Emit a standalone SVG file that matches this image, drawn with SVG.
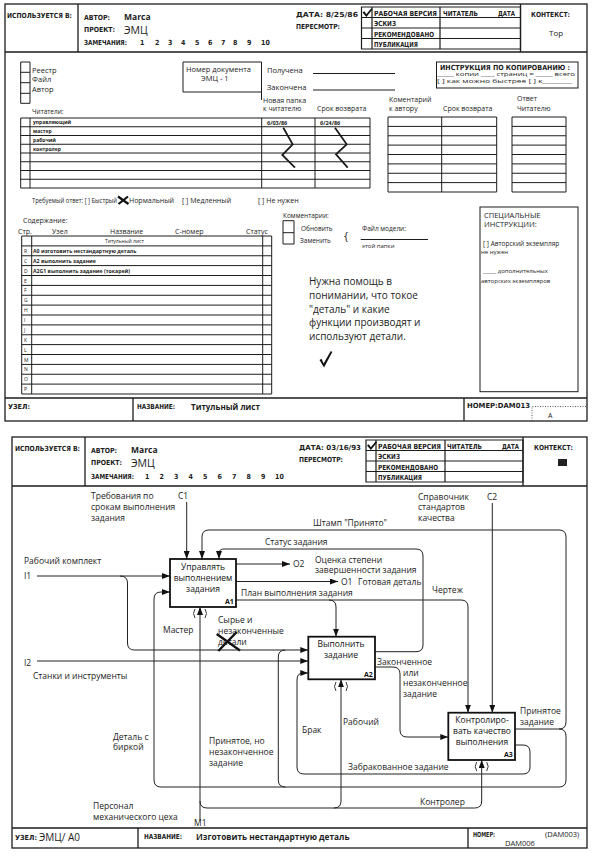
<svg xmlns="http://www.w3.org/2000/svg" width="598" height="856" viewBox="0 0 598 856">
<style>
.h{font-family:"DejaVu Sans Condensed","DejaVu Sans",sans-serif;font-weight:bold;font-size:7px;fill:#1c1c1c}
.r{font-family:"Open Sans","Noto Sans",sans-serif;fill:#1c1c1c}
.b{font-family:"Open Sans","Noto Sans",sans-serif;font-weight:bold;fill:#1c1c1c}
.ln{fill:none;stroke:#1c1c1c;stroke-width:1}
.fr{fill:none;stroke:#1c1c1c;stroke-width:1.3}
.bx{fill:#fff;stroke:#111;stroke-width:1.8}
.cn{fill:none;stroke:#222;stroke-width:1}
.ar{marker-end:url(#arr)}
.d{font-family:"Open Sans","Noto Sans",sans-serif;font-size:8.5px;fill:#1c1c1c}
.n{font-family:"Open Sans","Noto Sans",sans-serif;font-size:8.5px;fill:#111;text-anchor:middle}
.id{font-family:"Open Sans","Noto Sans",sans-serif;font-size:7px;font-weight:bold;fill:#111}
</style>
<defs>
<marker id="arr" viewBox="0 0 8 6" refX="8" refY="3" markerWidth="8" markerHeight="6" markerUnits="userSpaceOnUse" orient="auto"><path d="M0,0L8,3L0,6Z" fill="#111"/></marker>
</defs>

<!-- ================= PAGE 1 ================= -->
<g id="page1">
<g id="p1-header">
<rect class="fr" x="5" y="4" width="582" height="417"/>
<path class="fr" d="M5,52H587M78,4V52M520.5,4V52"/>
<path class="ln" style="stroke-width:1.2" d="M361.5,7H520.5V49H361.5ZM372,7V49M440,7V49M361.5,17.5H520.5M361.5,28H520.5M361.5,38.5H520.5"/>
<path d="M362.5,12.5L364.3,11.3L366.3,14.2L371.3,8.2L372.6,9.2L366.4,17Z" fill="#111"/>
<text class="h" x="7" y="18" textLength="65" lengthAdjust="spacingAndGlyphs">ИСПОЛЬЗУЕТСЯ В:</text>
<text class="h" x="84" y="20" textLength="26" lengthAdjust="spacingAndGlyphs">АВТОР:</text>
<text class="b" x="124" y="20" font-size="8.5">Marca</text>
<text class="h" x="84" y="32" textLength="31" lengthAdjust="spacingAndGlyphs">ПРОЕКТ:</text>
<text class="r" x="124" y="33.5" font-size="10.5">ЭМЦ</text>
<text class="h" x="84" y="45" textLength="43" lengthAdjust="spacingAndGlyphs">ЗАМЕЧАНИЯ:</text>
<text class="h" y="45"><tspan x="140">1</tspan><tspan x="155">2</tspan><tspan x="168">3</tspan><tspan x="181">4</tspan><tspan x="195">5</tspan><tspan x="208">6</tspan><tspan x="221">7</tspan><tspan x="233">8</tspan><tspan x="247">9</tspan><tspan x="261">10</tspan></text>
<text class="h" x="296" y="17" textLength="62" lengthAdjust="spacingAndGlyphs">ДАТА: 8/25/86</text>
<text class="h" x="296" y="29" textLength="44" lengthAdjust="spacingAndGlyphs">ПЕРЕСМОТР:</text>
<text class="h" x="374" y="15.5" textLength="63" lengthAdjust="spacingAndGlyphs">РАБОЧАЯ ВЕРСИЯ</text>
<text class="h" x="374" y="26" textLength="22" lengthAdjust="spacingAndGlyphs">ЭСКИЗ</text>
<text class="h" x="374" y="36.5" textLength="60" lengthAdjust="spacingAndGlyphs">РЕКОМЕНДОВАНО</text>
<text class="h" x="374" y="47" textLength="44" lengthAdjust="spacingAndGlyphs">ПУБЛИКАЦИЯ</text>
<text class="h" x="443" y="15.5" textLength="35" lengthAdjust="spacingAndGlyphs">ЧИТАТЕЛЬ</text>
<text class="h" x="498" y="15.5" textLength="17" lengthAdjust="spacingAndGlyphs">ДАТА</text>
<text class="h" x="531" y="17" textLength="39" lengthAdjust="spacingAndGlyphs">КОНТЕКСТ:</text>
<text class="r" x="549" y="36" font-size="8">Top</text>
</g>

<g id="p1-routing">
<path class="ln" d="M20.7,62H30M20.7,72.3H30M20.7,82.7H30M20.7,93.3H30M20.7,103.3H30M20.7,62V103.3M30,62V103.3"/>
<text class="r" x="32" y="72.5" font-size="7.5">Реестр</text>
<text class="r" x="32" y="81.5" font-size="7.5">Файл</text>
<text class="r" x="32" y="91.5" font-size="7.5">Автор</text>
<path class="ln" d="M183,62H261.5V92H183ZM261.5,92V100"/>
<text class="r" x="186" y="71.5" font-size="7.5">Номер документа</text>
<text class="r" x="201" y="80.5" font-size="7.5">ЭМЦ - 1</text>
<text class="r" x="267" y="72.5" font-size="7.5">Получена</text>
<text class="r" x="267" y="89.5" font-size="7.5">Закончена</text>
<path class="ln" d="M313,73.5H395M313,90H395"/>
<rect class="ln" x="436.5" y="62" width="141.5" height="26"/>
<text class="h" x="440" y="69.5" textLength="130" lengthAdjust="spacingAndGlyphs">ИНСТРУКЦИЯ ПО КОПИРОВАНИЮ :</text>
<text class="r" x="437" y="76" font-size="5.5" textLength="138" lengthAdjust="spacingAndGlyphs">_____ копии ____ страниц = _____ всего</text>
<text class="r" x="437" y="82.5" font-size="5.5" textLength="135" lengthAdjust="spacingAndGlyphs">[ ] как можно быстрее [ ] к________</text>
</g>

<g id="p1-readers">
<text class="r" x="263" y="102.5" font-size="7">Новая папка</text>
<text class="r" x="263" y="111" font-size="7">к читателю</text>
<text class="r" x="317" y="111" font-size="7">Срок возврата</text>
<text class="r" x="389" y="102" font-size="7">Коментарий</text>
<text class="r" x="389" y="110.5" font-size="7">к автору</text>
<text class="r" x="443" y="110.5" font-size="7">Срок возврата</text>
<text class="r" x="517" y="100.5" font-size="7">Ответ</text>
<text class="r" x="517" y="110.5" font-size="7">Читателю</text>
<text class="r" x="32" y="114" font-size="6.5">Читатели:</text>
<path class="ln" d="M20.7,118H370V188H20.7ZM30,118V188M261.7,118V188M315,118V188M20.7,126.75H370M20.7,135.5H370M20.7,144.25H370M20.7,153H370M20.7,161.75H370M20.7,170.5H370M20.7,179.25H370"/>
<text class="b" x="33" y="124.3" font-size="5">управляющий</text>
<text class="b" x="33" y="133" font-size="5">мастер</text>
<text class="b" x="33" y="141.8" font-size="5">рабочий</text>
<text class="b" x="33" y="150.5" font-size="5">контролер</text>
<text class="b" x="267" y="124.5" font-size="5.5">6/03/86</text>
<text class="b" x="320" y="124.5" font-size="5.5">6/24/86</text>
<path fill="none" stroke="#1c1c1c" stroke-width="1.8" d="M283.3,127.7L292.7,144.3L282.3,155L295,167.7M335,127.7L346.7,144.3L336,154.3L347.7,167.7"/>
<path class="ln" d="M388,117H496.7V192H388ZM441.7,117V192M388,126.4H496.7M388,135.75H496.7M388,145.1H496.7M388,154.5H496.7M388,163.9H496.7M388,173.25H496.7M388,182.6H496.7"/>
<path class="ln" d="M512,117H566V192H512ZM512,126.4H566M512,135.75H566M512,145.1H566M512,154.5H566M512,163.9H566M512,173.25H566M512,182.6H566"/>
<text class="r" x="32" y="202.5" font-size="7" textLength="85" lengthAdjust="spacingAndGlyphs">Требуемый ответ: [ ] Быстрый</text>
<path fill="none" stroke="#111" stroke-width="2.2" d="M118,196.5L128.5,204M118.5,204L128,196.5"/>
<text class="r" x="129" y="202.5" font-size="7">Нормальный</text>
<text class="r" x="182" y="202.5" font-size="7">[ ] Медленный</text>
<text class="r" x="258" y="202.5" font-size="7">[ ] Не нужен</text>
</g>

<g id="p1-contents">
<text class="r" x="23" y="222.5" font-size="7">Содержание:</text>
<text class="r" x="18" y="234" font-size="7">Стр.</text>
<text class="r" x="52" y="234" font-size="7">Узел</text>
<text class="r" x="110" y="234" font-size="7">Название</text>
<text class="r" x="175" y="234" font-size="7">С-номер</text>
<text class="r" x="246" y="234" font-size="7">Статус</text>
<path class="ln" d="M21.7,236H271.7V394H21.7ZM31.7,236V394M262.7,236V394M21.7,245.9H271.7M21.7,255.75H271.7M21.7,265.6H271.7M21.7,275.5H271.7M21.7,285.4H271.7M21.7,295.25H271.7M21.7,305.1H271.7M21.7,315H271.7M21.7,324.9H271.7M21.7,334.75H271.7M21.7,344.6H271.7M21.7,354.5H271.7M21.7,364.4H271.7M21.7,374.25H271.7M21.7,384.1H271.7"/>
<text class="r" x="105" y="243.3" font-size="5">Титульный лист</text>
<text class="b" x="33" y="252.9" font-size="5.2">A0 изготовить нестандартную деталь</text>
<text class="b" x="33" y="262.75" font-size="5.2">A2 выполнить задание</text>
<text class="b" x="33" y="272.6" font-size="5.2">A2G1 выполнить задание (токарей)</text>
<g class="r" font-size="5">
<text x="24" y="252.9">R</text><text x="24" y="262.75">C</text><text x="24" y="272.6">D</text><text x="24" y="282.5">E</text><text x="24" y="292.4">F</text><text x="24" y="302.25">G</text><text x="24" y="312.1">H</text><text x="24" y="322">I</text><text x="24" y="331.9">J</text><text x="24" y="341.75">K</text><text x="24" y="351.6">L</text><text x="24" y="361.5">M</text><text x="24" y="371.4">N</text><text x="24" y="381.25">O</text><text x="24" y="391.1">P</text>
</g>
</g>

<g id="p1-comments">
<text class="r" x="283" y="217.5" font-size="6.5">Комментарии:</text>
<path class="ln" d="M283,220.7H294V244H283ZM283,232.7H294"/>
<text class="r" x="301" y="230.5" font-size="6.5">Обновить</text>
<text class="r" x="300" y="243" font-size="6.5">Заменить</text>
<text class="r" x="344" y="240" font-size="11">{</text>
<text class="r" x="362" y="231" font-size="6.5">Файл модели:</text>
<path class="ln" d="M360.7,239.5H428"/>
<text class="r" x="362" y="247.5" font-size="6">этой папки</text>
<g class="r" font-size="10">
<text x="309" y="285">Нужна помощь в</text>
<text x="309" y="299">понимании, что токое</text>
<text x="309" y="312.5">"деталь" и какие</text>
<text x="309" y="326">функции производят и</text>
<text x="309" y="339.5">используют детали.</text>
</g>
<path d="M319.5,360L321.5,358.8L323.6,363.5L330.8,351L332.3,352L324,367.5Z" fill="#111"/>
</g>

<g id="p1-special">
<rect class="ln" x="480" y="207" width="98" height="184.7"/>
<text class="r" x="484" y="217.5" font-size="7.5">СПЕЦИАЛЬНЫЕ</text>
<text class="r" x="484" y="226.5" font-size="7.5">ИНСТРУКЦИИ:</text>
<text class="r" x="483" y="245.5" font-size="6.5">[ ] Авторский экземпляр</text>
<text class="r" x="481" y="254" font-size="6">не нужен</text>
<text class="r" x="483" y="272.5" font-size="6">_____ дополнительных</text>
<text class="r" x="481" y="283" font-size="6">авторских экземпляров</text>
</g>

<g id="p1-footer">
<path class="fr" d="M5,398H587M133,398V421M464,398V421"/>
<text class="h" x="8" y="409" textLength="22" lengthAdjust="spacingAndGlyphs">УЗЕЛ:</text>
<text class="h" x="137" y="409" textLength="38" lengthAdjust="spacingAndGlyphs">НАЗВАНИЕ:</text>
<text class="b" x="191" y="409.5" font-size="8">Титульный лист</text>
<text class="h" x="467" y="408" textLength="63" lengthAdjust="spacingAndGlyphs">НОМЕР:DAM013</text>
<path fill="none" stroke="#333" stroke-width="0.8" stroke-dasharray="1,1.5" d="M532,421V406.5H586"/>
<text class="r" x="548" y="418" font-size="7">A</text>
</g>
</g>

<!-- ================= PAGE 2 ================= -->
<g id="page2">
<g id="p2-header">
<rect class="fr" x="12" y="437" width="575" height="411"/>
<path class="fr" d="M12,486H587M85,437V486M523,437V486"/>
<path class="ln" style="stroke-width:1.2" d="M366,440H523V482H366ZM376,440V482M445,440V482M366,450.5H523M366,461H523M366,471.5H523"/>
<path d="M367,445.5L368.8,444.3L370.8,447.2L375.8,441.2L377.1,442.2L370.9,450Z" fill="#111"/>
<text class="h" x="15" y="451" textLength="65" lengthAdjust="spacingAndGlyphs">ИСПОЛЬЗУЕТСЯ В:</text>
<text class="h" x="91" y="453" textLength="26" lengthAdjust="spacingAndGlyphs">АВТОР:</text>
<text class="b" x="131" y="453" font-size="8.5">Marca</text>
<text class="h" x="91" y="465" textLength="31" lengthAdjust="spacingAndGlyphs">ПРОЕКТ:</text>
<text class="r" x="131" y="466.5" font-size="10.5">ЭМЦ</text>
<text class="h" x="91" y="479" textLength="43" lengthAdjust="spacingAndGlyphs">ЗАМЕЧАНИЯ:</text>
<text class="h" y="479"><tspan x="145">1</tspan><tspan x="159.5">2</tspan><tspan x="174">3</tspan><tspan x="188.5">4</tspan><tspan x="203">5</tspan><tspan x="217.5">6</tspan><tspan x="232">7</tspan><tspan x="246.5">8</tspan><tspan x="261">9</tspan><tspan x="275">10</tspan></text>
<text class="h" x="299" y="450" textLength="62" lengthAdjust="spacingAndGlyphs">ДАТА: 03/16/93</text>
<text class="h" x="299" y="462" textLength="44" lengthAdjust="spacingAndGlyphs">ПЕРЕСМОТР:</text>
<text class="h" x="378" y="448.5" textLength="63" lengthAdjust="spacingAndGlyphs">РАБОЧАЯ ВЕРСИЯ</text>
<text class="h" x="378" y="459" textLength="22" lengthAdjust="spacingAndGlyphs">ЭСКИЗ</text>
<text class="h" x="378" y="469.5" textLength="60" lengthAdjust="spacingAndGlyphs">РЕКОМЕНДОВАНО</text>
<text class="h" x="378" y="480" textLength="44" lengthAdjust="spacingAndGlyphs">ПУБЛИКАЦИЯ</text>
<text class="h" x="447" y="448.5" textLength="35" lengthAdjust="spacingAndGlyphs">ЧИТАТЕЛЬ</text>
<text class="h" x="502" y="448.5" textLength="17" lengthAdjust="spacingAndGlyphs">ДАТА</text>
<text class="h" x="534" y="450" textLength="39" lengthAdjust="spacingAndGlyphs">КОНТЕКСТ:</text>
<rect x="558" y="459" width="9" height="7" fill="#222"/>
</g>

<g id="p2-footer">
<path class="fr" d="M12,828H587M138,828V848M468,828V848"/>
<text class="h" x="15" y="840" textLength="22" lengthAdjust="spacingAndGlyphs">УЗЕЛ:</text>
<text class="r" x="39" y="841" font-size="10">ЭМЦ/ A0</text>
<text class="h" x="144" y="839" textLength="38" lengthAdjust="spacingAndGlyphs">НАЗВАНИЕ:</text>
<text class="b" x="196" y="840" font-size="8.3">Изготовить нестандартную деталь</text>
<text class="h" x="473" y="837" textLength="22" lengthAdjust="spacingAndGlyphs">НОМЕР:</text>
<text class="r" x="545" y="837" font-size="7.5">(DAM003)</text>
<text class="r" x="505" y="846" font-size="7.5">DAM006</text>
</g>

<g id="connectors">
<path class="cn ar" d="M186.7,502V559"/>
<path class="cn ar" d="M515,729H559Q566,729 566,722V537Q566,530 559,530H209Q202,530 202,537V559"/>
<path class="cn ar" d="M559,729Q566,729 566,736V780Q566,787 559,787H161Q154,787 154,780V599Q154,592 161,592H170"/>
<path class="cn" d="M285.3,787Q278.3,787 278.3,780V657Q278.3,650 285.3,650"/>
<path class="cn ar" d="M375,651.7H416Q423,651.7 423,645V556Q423,549 416,549H224Q219,549 219,553.5V559"/>
<path class="cn ar" d="M236,564H290"/>
<path class="cn ar" d="M236,581.5H338"/>
<path class="cn ar" d="M236,600H461Q468,600 468,607V712.7"/>
<path class="cn ar" d="M329,600Q336,600 336,607V636.7"/>
<path class="cn ar" d="M37,576H170"/>
<path class="cn ar" d="M120,576Q127.5,576 127.5,583V643Q127.5,650 134.5,650H308.3"/>
<path class="cn ar" d="M37,661H308.3"/>
<path class="cn ar" d="M515,745H523Q530,745 530,752V767Q530,774 523,774H304Q297,774 297,767V680Q297,673 303,673H308.3"/>
<path class="cn ar" d="M375,667H393Q400,667 400,674V730Q400,737 407,737H448.3"/>
<path class="cn ar" d="M492.3,503V712.7"/>
<path class="cn ar" d="M200,821V607"/>
<path class="cn ar" d="M200,801Q200,808 207,808H474.7Q481.7,808 481.7,801V760"/>
<path class="cn ar" d="M334,808Q341,808 341,801V679.3"/>
<path fill="none" stroke="#222" stroke-width="0.9" d="M195,609Q192,613.5 195,618M205,609Q208,613.5 205,618M336,682Q333,686.5 336,691M346,682Q349,686.5 346,691M476.7,762Q473.7,766.5 476.7,771M486.7,762Q489.7,766.5 486.7,771"/>
<path fill="none" stroke="#111" stroke-width="2.4" d="M216.7,634L240,650.5M218.3,651L236.7,632"/>
</g>

<g id="labels">
<text class="d" x="91" y="499">Требования по</text>
<text class="d" x="91" y="509.7">срокам выполнения</text>
<text class="d" x="91" y="520.7">задания</text>
<text class="d" x="178" y="499" font-size="7.5">C1</text>
<text class="d" x="313" y="526">Штамп "Принято"</text>
<text class="d" x="418" y="499.5">Справочник</text>
<text class="d" x="418" y="509.7">стандартов</text>
<text class="d" x="418" y="520.7">качества</text>
<text class="d" x="487" y="499.5" font-size="7.5">C2</text>
<text class="d" x="265" y="545">Статус задания</text>
<text class="d" x="315" y="562.5" font-size="9">Оценка степени</text>
<text class="d" x="315" y="572.5" font-size="9">завершенности задания</text>
<text class="d" x="293" y="566.5" font-size="7.5">O2</text>
<text class="d" x="341" y="584.5" font-size="7.5">O1</text>
<text class="d" x="358" y="584.5" font-size="9">Готовая деталь</text>
<text class="d" x="241" y="596">План выполнения задания</text>
<text class="d" x="432" y="593">Чертеж</text>
<text class="d" x="24" y="564">Рабочий комплект</text>
<text class="d" x="24" y="578.5" font-size="7.5">I1</text>
<text class="d" x="163" y="633">Мастер</text>
<text class="d" x="218" y="623">Сырье и</text>
<text class="d" x="218" y="634">незаконченные</text>
<text class="d" x="218" y="644.5">детали</text>
<text class="d" x="24" y="665.5" font-size="7.5">I2</text>
<text class="d" x="33" y="678.5">Станки и инструменты</text>
<text class="d" x="377" y="665">Законченное</text>
<text class="d" x="403" y="676">или</text>
<text class="d" x="403" y="686">незаконченное</text>
<text class="d" x="403" y="696.5">задание</text>
<text class="d" x="520" y="714">Принятое</text>
<text class="d" x="520" y="724.5">задание</text>
<text class="d" x="302" y="733">Брак</text>
<text class="d" x="343" y="724.5">Рабочий</text>
<text class="d" x="113" y="739.5">Деталь с</text>
<text class="d" x="113" y="750">биркой</text>
<text class="d" x="209" y="744">Принятое, но</text>
<text class="d" x="209" y="755">незаконченное</text>
<text class="d" x="209" y="766">задание</text>
<text class="d" x="348" y="769.5">Забракованное задание</text>
<text class="d" x="420" y="804.5">Контролер</text>
<text class="d" x="93" y="808.5">Персонал</text>
<text class="d" x="93" y="819.5">механического цеха</text>
<text class="d" x="194" y="825.5" font-size="7.5">M1</text>
</g>

<g id="A1">
<rect class="bx" x="170" y="559" width="66" height="48"/>
<text class="n" x="203" y="569.5">Управлять</text>
<text class="n" x="203" y="581">выполнением</text>
<text class="n" x="203" y="591.5">задания</text>
<text class="id" x="225" y="603.5">A1</text>
</g>
<g id="A2">
<rect class="bx" x="308.3" y="636.7" width="66.7" height="42.6"/>
<text class="n" x="341" y="647">Выполнить</text>
<text class="n" x="341" y="658">задание</text>
<text class="id" x="364" y="676.5">A2</text>
</g>
<g id="A3">
<rect class="bx" x="448.3" y="712.7" width="66.7" height="47.3"/>
<text class="n" x="482" y="723">Контролиро-</text>
<text class="n" x="482" y="733.5">вать качество</text>
<text class="n" x="482" y="744.5">выполнения</text>
<text class="id" x="504" y="756.5">A3</text>
</g>
</g>
</svg>
